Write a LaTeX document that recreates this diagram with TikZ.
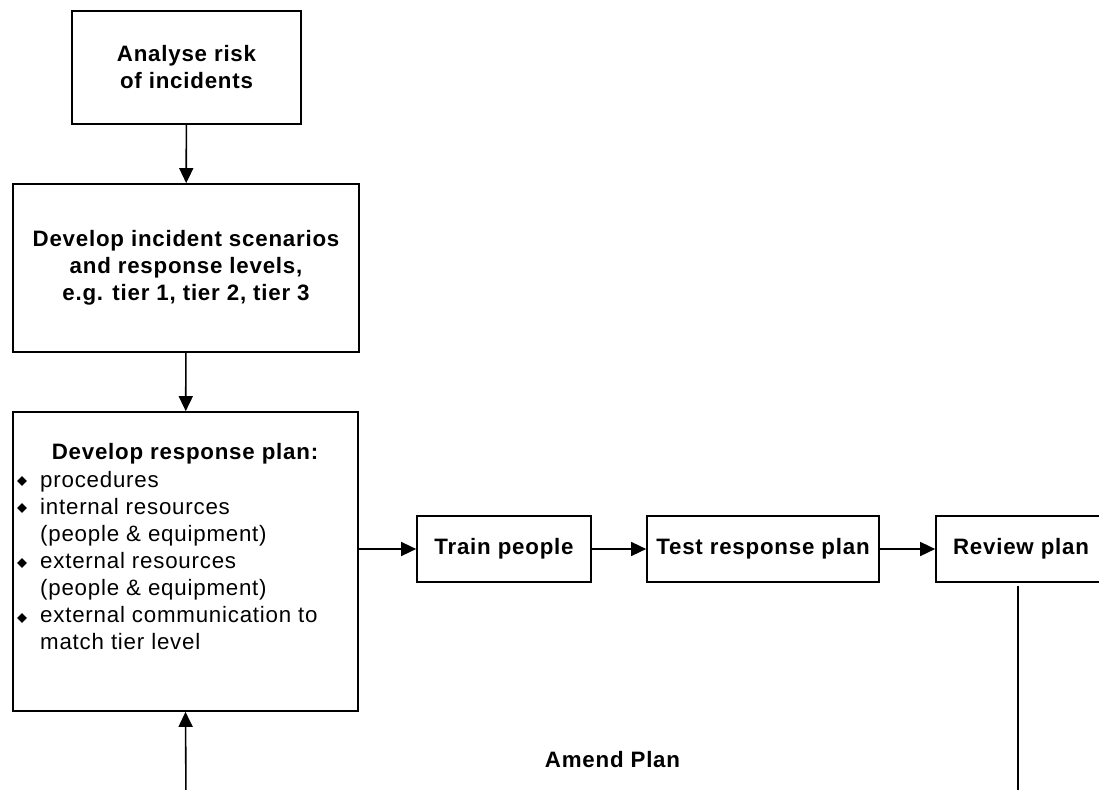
\documentclass[tikz,border=0pt]{standalone}
\usepackage{fontspec}
\setmainfont{Liberation Sans}[LetterSpace=3.5]
\usetikzlibrary{arrows.meta,shapes.geometric}
\begin{document}
\begin{tikzpicture}[x=1pt,y=-1pt,
  box/.style={draw=black, line width=1.7pt, inner sep=0pt, align=center,
    font=\fontsize{22.3}{27}\selectfont\bfseries},
  ttl/.style={inner sep=0pt, font=\fontsize{22.3}{27}\selectfont\bfseries},
  itemtext/.style={inner sep=0pt, anchor=base west, font=\fontsize{22.3}{27}\selectfont},
  bulletmark/.style={diamond, fill=black, inner sep=0pt, minimum size=10pt},
  conn/.style={line width=1.6pt, -{Triangle[length=15pt,width=14pt]}},
  plainline/.style={line width=1.6pt}]
\useasboundingbox (0,0) rectangle (1099,789);
\clip (0,0) rectangle (1099,789);

\node[box, minimum width=229pt, minimum height=113pt] (a) at (186.5,67.5) {Analyse risk\\of incidents};
\node[box, minimum width=346pt, minimum height=168pt] (b) at (186,268) {Develop incident scenarios\\and response levels,\\e.g. tier 1, tier 2, tier 3};
\node[box, minimum width=345pt, minimum height=299pt] (c) at (185.5,561.5) {};
\node[ttl, anchor=base] (ct) at (185,459) {Develop response plan:};

\node[itemtext] (l1) at (40,487) {procedures};
\node[itemtext] (l2) at (40,514) {internal resources};
\node[itemtext] (l3) at (40,541) {(people \& equipment)};
\node[itemtext] (l4) at (40,568) {external resources};
\node[itemtext] (l5) at (40,595) {(people \& equipment)};
\node[itemtext] (l6) at (40,622) {external communication to};
\node[itemtext] (l7) at (40,649) {match tier level};
\node[bulletmark] (d1) at (22,481) {};
\node[bulletmark] (d2) at (22,508) {};
\node[bulletmark] (d3) at (22,563) {};
\node[bulletmark] (d4) at (22,618) {};

\node[box, minimum width=174pt, minimum height=66pt] (train) at (504,549) {Train people};
\node[box, minimum width=232pt, minimum height=66pt] (test) at (763,549) {Test response plan};
\node[box, minimum width=200pt, minimum height=66pt] (review) at (1036,549) {};
\node[ttl] (reviewtext) at (1021,549) {Review plan};

\node[ttl, anchor=base] (amend) at (612.5,767) {Amend Plan};

\coordinate (loopL) at (186,800);
\coordinate (loopR) at (1018,800);
\coordinate (revout) at (1018,586);

\draw[conn] (a) -- (b);
\draw[conn] (b) -- (c);
\draw[conn] (c.east |- train.west) -- (train.west);
\draw[conn] (train) -- (test);
\draw[conn] (test) -- (review);
\draw[plainline] (revout) -- (loopR);
\draw[conn] (loopL) -- (c.south);
\end{tikzpicture}
\end{document}
